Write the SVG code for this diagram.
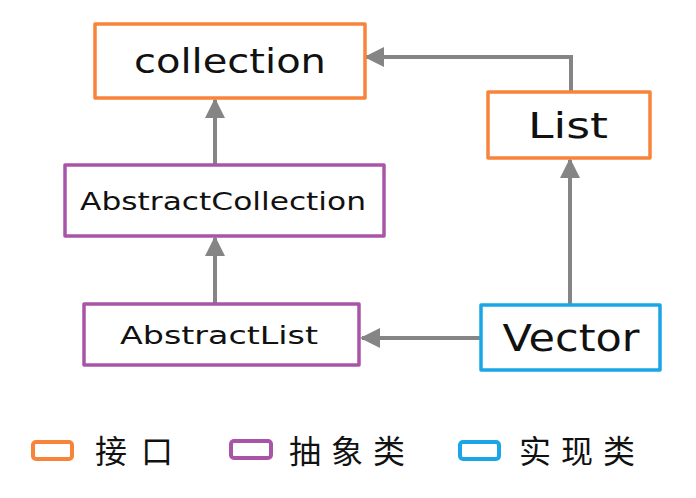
<svg xmlns="http://www.w3.org/2000/svg" width="696" height="498" viewBox="0 0 696 498">
<style>
.box{fill:#fff;stroke-width:3.5;stroke-linejoin:round}
.iface{stroke:#f7843a}
.abs{stroke:#a855a8}
.impl{stroke:#1aa6e6}
.t{font-family:"DejaVu Sans","Noto Sans CJK SC",sans-serif;fill:#111;text-anchor:middle}
.edge{fill:none;stroke:#858585;stroke-width:4}
.lg{font-family:"Noto Sans CJK SC","Noto Sans CJK TC",sans-serif;font-size:32px;fill:#111;letter-spacing:10px}
</style>
<defs>
<marker id="ah" markerWidth="5" markerHeight="5" refX="4.5" refY="2.5" orient="auto" markerUnits="strokeWidth">
<path d="M0,0 L5,2.5 L0,5 Z" fill="#858585"/>
</marker>
</defs>
<rect width="696" height="498" fill="#fff"/>
<g id="edges">
<path class="edge" d="M571,92 L571,57 L366,57" marker-end="url(#ah)"/>
<path class="edge" d="M215,164 L215,100" marker-end="url(#ah)"/>
<path class="edge" d="M215,303 L215,238" marker-end="url(#ah)"/>
<path class="edge" d="M570,304 L570,160" marker-end="url(#ah)"/>
<path class="edge" d="M480,338 L362,338" marker-end="url(#ah)"/>
</g>
<g id="collection">
<rect class="box iface" x="95" y="24" width="270" height="74"/>
<text class="t" x="230" y="73" font-size="34" textLength="192" lengthAdjust="spacingAndGlyphs">collection</text>
</g>
<g id="List">
<rect class="box iface" x="488" y="92" width="162" height="66"/>
<text class="t" x="568" y="138" font-size="36" textLength="80" lengthAdjust="spacingAndGlyphs">List</text>
</g>
<g id="AbstractCollection">
<rect class="box abs" x="65" y="165" width="319" height="71"/>
<text class="t" x="223" y="210" font-size="25" textLength="286" lengthAdjust="spacingAndGlyphs">AbstractCollection</text>
</g>
<g id="AbstractList">
<rect class="box abs" x="84" y="304" width="275" height="61"/>
<text class="t" x="219" y="344" font-size="25" textLength="198" lengthAdjust="spacingAndGlyphs">AbstractList</text>
</g>
<g id="Vector">
<rect class="box impl" x="481" y="305" width="179" height="65"/>
<text class="t" x="571" y="351" font-size="38" textLength="137" lengthAdjust="spacingAndGlyphs">Vector</text>
</g>
<g id="legend">
<rect x="33" y="442" width="39" height="17" rx="3" fill="none" stroke="#f7843a" stroke-width="4"/>
<text class="lg" x="95" y="463" style="letter-spacing:14px">接口</text>
<rect x="231" y="441" width="40" height="17" rx="3" fill="none" stroke="#a855a8" stroke-width="4"/>
<text class="lg" x="289" y="463">抽象类</text>
<rect x="460" y="442" width="39" height="17" rx="3" fill="none" stroke="#1aa6e6" stroke-width="4"/>
<text class="lg" x="519" y="463">实现类</text>
</g>
</svg>
